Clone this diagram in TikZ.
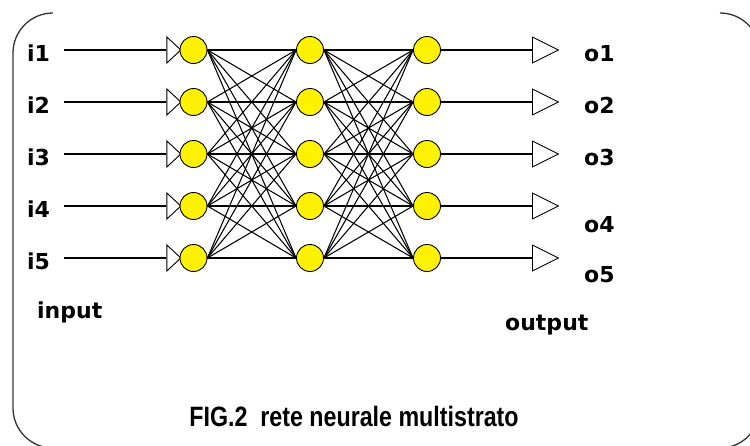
\documentclass[tikz,border=0pt]{standalone}
\usepackage{fontspec}
\setmainfont{DejaVu Sans}
\newfontfamily\capfont[FakeStretch=0.83]{Liberation Sans}
\usetikzlibrary{shapes.geometric}

\begin{document}
\begin{tikzpicture}[x=1pt,y=-1pt,
  neuron/.style={circle, minimum size=27pt,
    inner sep=0pt, draw=black, line width=0.9pt, fill=yellow},
  intri/.style={isosceles triangle, isosceles triangle stretches,
    minimum width=26pt, minimum height=14pt, inner sep=0pt,
    draw=black, fill=white, line width=0.9pt},
  outtri/.style={isosceles triangle, isosceles triangle stretches,
    minimum width=26pt, minimum height=26pt, inner sep=0pt,
    draw=black, fill=white, line width=0.9pt},
  lab/.style={font=\fontsize{22}{22}\selectfont\bfseries, inner sep=0pt, anchor=base west},
  wire/.style={line width=1.2pt},
  link/.style={line width=1.05pt},
  frame/.style={line width=1.3pt, draw=black!80, rounded corners=40pt}
]
\useasboundingbox (0,0) rectangle (750,445);

% partial rounded frame
\begin{scope}
  \clip (0,0) rectangle (750,445);
  \draw[frame] (53,13) -- (13,13) -- (13,448) -- (60,448);
  \draw[frame] (720,13) -- (760,13) -- (760,60);
  \draw[frame] (760,400) -- (760,448) -- (710,448);
\end{scope}

% input triangles, output triangles and the three layers of neurons
\foreach \r [count=\i] in {50,102,154,206,258} {
  \node[intri, anchor=apex] (t\i) at (182,\r) {};
  \node[outtri, anchor=west] (u\i) at (532,\r) {};
  \node[neuron] (a\i) at (193.5,\r) {};
  \node[neuron] (b\i) at (310,\r) {};
  \node[neuron] (c\i) at (427,\r) {};
  \coordinate (s\i) at (64,\r);
}

% input and output wires
\foreach \i in {1,...,5} {
  \draw[wire] (s\i) -- (t\i.west);
  \draw[wire] (c\i.east) -- (u\i.west);
}

% full connections between consecutive layers
\foreach \i in {1,...,5} {
  \foreach \j in {1,...,5} {
    \draw[link] (a\i.east) -- (b\j.west);
    \draw[link] (b\i.east) -- (c\j.west);
  }
}

% labels
\foreach \y [count=\i] in {61,113,165,217,269} {
  \node[lab] (in\i) at (27,\y) {i\i};
}
\foreach \y [count=\i] in {61,113,165,232,282} {
  \node[lab] (out\i) at (584,\y) {o\i};
}
\node[lab] (inlab) at (37,318) {input};
\node[lab] (outlab) at (505,330) {output};
\node[font=\capfont\bfseries\fontsize{28}{28}\selectfont, inner sep=0pt, anchor=base] (cap)
  at (354,426) {FIG.2\ \ rete neurale multistrato};
\end{tikzpicture}
\end{document}
